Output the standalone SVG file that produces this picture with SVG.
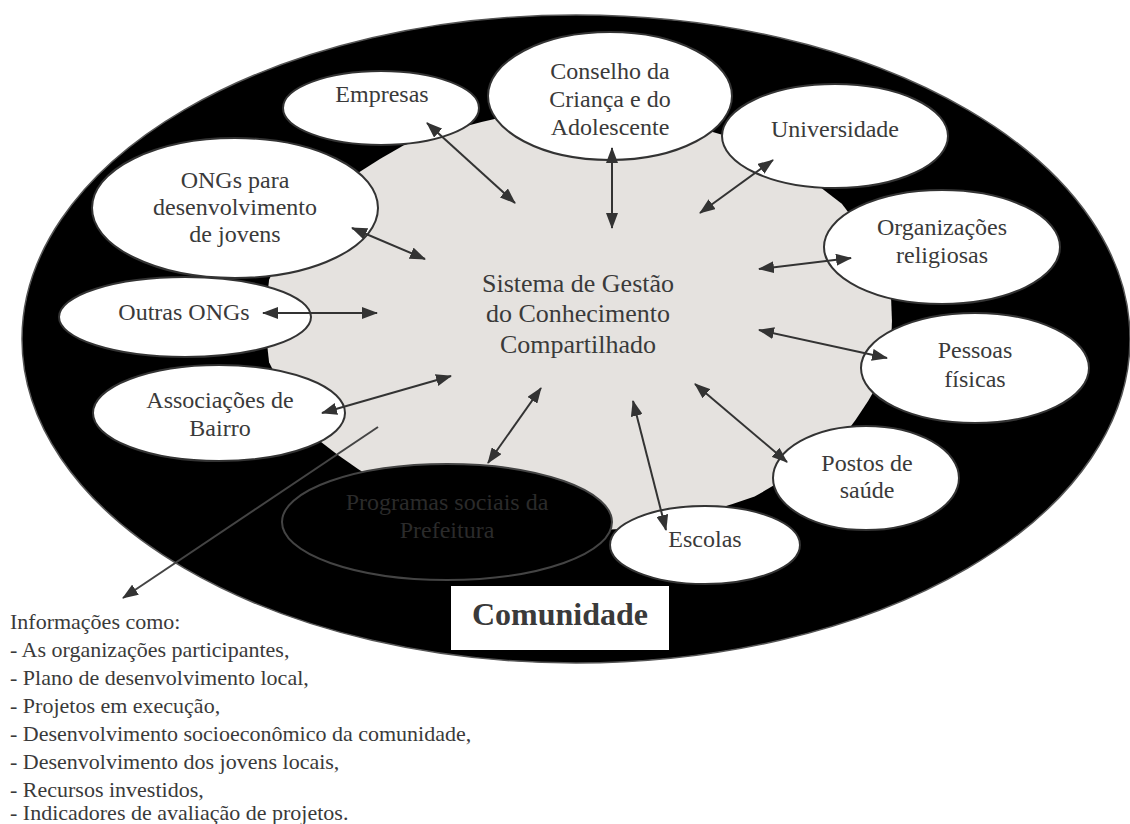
<svg xmlns="http://www.w3.org/2000/svg" width="1130" height="824" viewBox="0 0 1130 824">
<defs>
  <marker id="ah" viewBox="0 0 16 12" refX="15" refY="6" markerWidth="16" markerHeight="12" markerUnits="userSpaceOnUse" orient="auto-start-reverse">
    <path d="M0,0 L16,6 L0,12 z" fill="#333333"/>
  </marker>
</defs>
<rect x="0" y="0" width="1130" height="824" fill="#ffffff"/>

<g id="comunidade">
  <ellipse cx="576" cy="339" rx="554" ry="324" fill="#000000" stroke="#555555" stroke-width="1.5"/>
</g>

<g id="sistema">
  <path fill="#e5e2df" d="M888.9,279.8 Q895,321 888.9,362.2 Q870.9,401.7 841.8,438.2 Q802.4,470.2 754.6,496.4 Q699.9,515.9 640.7,527.9 Q579,532 517.3,527.9 Q458.1,515.9 403.4,496.4 Q355.6,470.2 316.2,438.2 Q287.1,401.7 269.1,362.2 Q263,321 269.1,279.8 Q287.1,240.3 316.2,203.8 Q355.6,171.8 403.4,145.6 Q458.1,126.1 517.3,114.1 Q579,110 640.7,114.1 Q699.9,126.1 754.6,145.6 Q802.4,171.8 841.8,203.8 Q870.9,240.3 888.9,279.8 Z"/>
  <text x="578" y="292" font-family="Liberation Serif" font-size="26" fill="#3a3a3a" text-anchor="middle">Sistema de Gestão</text>
  <text x="578" y="322" font-family="Liberation Serif" font-size="26" fill="#3a3a3a" text-anchor="middle">do Conhecimento</text>
  <text x="578" y="353" font-family="Liberation Serif" font-size="26" fill="#3a3a3a" text-anchor="middle">Compartilhado</text>
</g>

<g id="n-empresas">
  <ellipse cx="381" cy="108" rx="98" ry="37" fill="#ffffff" stroke="#333333" stroke-width="2"/>
  <text x="382" y="102" font-family="Liberation Serif" font-size="24" fill="#3a3a3a" text-anchor="middle">Empresas</text>
</g>
<g id="n-conselho">
  <ellipse cx="610" cy="96" rx="122" ry="64" fill="#ffffff" stroke="#333333" stroke-width="2"/>
  <text x="610" y="79" font-family="Liberation Serif" font-size="24" fill="#3a3a3a" text-anchor="middle">Conselho da</text>
  <text x="610" y="107" font-family="Liberation Serif" font-size="24" fill="#3a3a3a" text-anchor="middle">Criança e do</text>
  <text x="610" y="135" font-family="Liberation Serif" font-size="24" fill="#3a3a3a" text-anchor="middle">Adolescente</text>
</g>
<g id="n-universidade">
  <ellipse cx="835" cy="136" rx="113" ry="52" fill="#ffffff" stroke="#333333" stroke-width="2"/>
  <text x="835" y="137" font-family="Liberation Serif" font-size="24" fill="#3a3a3a" text-anchor="middle">Universidade</text>
</g>
<g id="n-organizacoes">
  <ellipse cx="942" cy="247" rx="118" ry="57" fill="#ffffff" stroke="#333333" stroke-width="2"/>
  <text x="942" y="235" font-family="Liberation Serif" font-size="24" fill="#3a3a3a" text-anchor="middle">Organizações</text>
  <text x="942" y="263" font-family="Liberation Serif" font-size="24" fill="#3a3a3a" text-anchor="middle">religiosas</text>
</g>
<g id="n-pessoas">
  <ellipse cx="975" cy="368" rx="114" ry="55" fill="#ffffff" stroke="#333333" stroke-width="2"/>
  <text x="975" y="358" font-family="Liberation Serif" font-size="24" fill="#3a3a3a" text-anchor="middle">Pessoas</text>
  <text x="975" y="387" font-family="Liberation Serif" font-size="24" fill="#3a3a3a" text-anchor="middle">físicas</text>
</g>
<g id="n-postos">
  <ellipse cx="866" cy="478" rx="93" ry="52" fill="#ffffff" stroke="#333333" stroke-width="2"/>
  <text x="867" y="471" font-family="Liberation Serif" font-size="24" fill="#3a3a3a" text-anchor="middle">Postos de</text>
  <text x="867" y="498" font-family="Liberation Serif" font-size="24" fill="#3a3a3a" text-anchor="middle">saúde</text>
</g>
<g id="n-escolas">
  <ellipse cx="705" cy="545" rx="95" ry="39" fill="#ffffff" stroke="#333333" stroke-width="2"/>
  <text x="705" y="547" font-family="Liberation Serif" font-size="24" fill="#3a3a3a" text-anchor="middle">Escolas</text>
</g>
<g id="n-programas">
  <ellipse cx="447" cy="522" rx="165" ry="58" fill="#000000" stroke="#444444" stroke-width="2"/>
  <text x="447" y="510" font-family="Liberation Serif" font-size="24" fill="#2b2b2b" text-anchor="middle">Programas sociais da</text>
  <text x="447" y="538" font-family="Liberation Serif" font-size="24" fill="#2b2b2b" text-anchor="middle">Prefeitura</text>
</g>
<g id="n-associacoes">
  <ellipse cx="219" cy="413" rx="126" ry="48" fill="#ffffff" stroke="#333333" stroke-width="2"/>
  <text x="220" y="408" font-family="Liberation Serif" font-size="24" fill="#3a3a3a" text-anchor="middle">Associações de</text>
  <text x="220" y="436" font-family="Liberation Serif" font-size="24" fill="#3a3a3a" text-anchor="middle">Bairro</text>
</g>
<g id="n-outras">
  <ellipse cx="185" cy="317" rx="126" ry="40" fill="#ffffff" stroke="#333333" stroke-width="2"/>
  <text x="184" y="320" font-family="Liberation Serif" font-size="24" fill="#3a3a3a" text-anchor="middle">Outras ONGs</text>
</g>
<g id="n-ongs">
  <ellipse cx="235" cy="208" rx="143" ry="70" fill="#ffffff" stroke="#333333" stroke-width="2"/>
  <text x="235" y="188" font-family="Liberation Serif" font-size="24" fill="#3a3a3a" text-anchor="middle">ONGs para</text>
  <text x="235" y="215" font-family="Liberation Serif" font-size="24" fill="#3a3a3a" text-anchor="middle">desenvolvimento</text>
  <text x="235" y="242" font-family="Liberation Serif" font-size="24" fill="#3a3a3a" text-anchor="middle">de jovens</text>
</g>

<g id="connectors" stroke="#333333" stroke-width="2" fill="none">
  <line x1="427" y1="123" x2="515" y2="203" marker-start="url(#ah)" marker-end="url(#ah)"/>
  <line x1="612" y1="148" x2="612" y2="228" marker-start="url(#ah)" marker-end="url(#ah)"/>
  <line x1="773" y1="160" x2="700" y2="213" marker-start="url(#ah)" marker-end="url(#ah)"/>
  <line x1="851" y1="258" x2="759" y2="269" marker-start="url(#ah)" marker-end="url(#ah)"/>
  <line x1="887" y1="358" x2="759" y2="330" marker-start="url(#ah)" marker-end="url(#ah)"/>
  <line x1="787" y1="462" x2="695" y2="384" marker-start="url(#ah)" marker-end="url(#ah)"/>
  <line x1="666" y1="530" x2="633" y2="401" marker-start="url(#ah)" marker-end="url(#ah)"/>
  <line x1="488" y1="463" x2="541" y2="388" marker-start="url(#ah)" marker-end="url(#ah)"/>
  <line x1="322" y1="413" x2="451" y2="376" marker-start="url(#ah)" marker-end="url(#ah)"/>
  <line x1="263" y1="313" x2="377" y2="313" marker-start="url(#ah)" marker-end="url(#ah)"/>
  <line x1="352" y1="228" x2="425" y2="259" marker-start="url(#ah)" marker-end="url(#ah)"/>
  <line x1="378" y1="427" x2="123" y2="598" stroke="#444444" marker-end="url(#ah)"/>
</g>

<g id="label-comunidade">
  <rect x="451" y="586" width="218" height="64" fill="#ffffff"/>
  <text x="560" y="625" font-family="Liberation Serif" font-size="32" font-weight="bold" fill="#3a3a3a" text-anchor="middle">Comunidade</text>
</g>

<g id="informacoes">
  <text x="10" y="629" font-family="Liberation Serif" font-size="22" fill="#3a3a3a">Informações como:</text>
  <text x="10" y="657" font-family="Liberation Serif" font-size="22" fill="#3a3a3a">- As organizações participantes,</text>
  <text x="10" y="685" font-family="Liberation Serif" font-size="22" fill="#3a3a3a">- Plano de desenvolvimento local,</text>
  <text x="10" y="713" font-family="Liberation Serif" font-size="22" fill="#3a3a3a">- Projetos em execução,</text>
  <text x="10" y="741" font-family="Liberation Serif" font-size="22" fill="#3a3a3a">- Desenvolvimento socioeconômico da comunidade,</text>
  <text x="10" y="769" font-family="Liberation Serif" font-size="22" fill="#3a3a3a">- Desenvolvimento dos jovens locais,</text>
  <text x="10" y="797" font-family="Liberation Serif" font-size="22" fill="#3a3a3a">- Recursos investidos,</text>
  <text x="10" y="820" font-family="Liberation Serif" font-size="22" fill="#3a3a3a">- Indicadores de avaliação de projetos.</text>
</g>
</svg>
